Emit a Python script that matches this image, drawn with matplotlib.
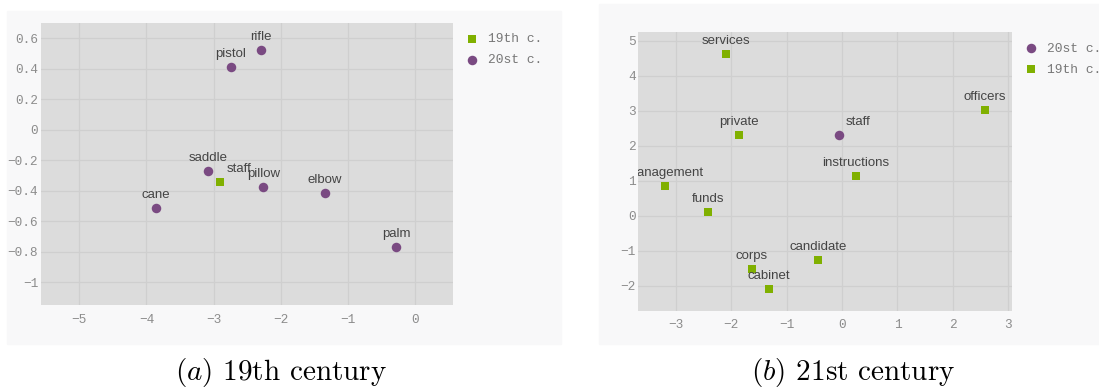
import matplotlib
matplotlib.use("Agg")
import matplotlib.pyplot as plt
from matplotlib.patches import Rectangle
from matplotlib.ticker import FixedLocator, FixedFormatter

# (a) 19th century
a_20st_words = ["rifle", "pistol", "saddle", "pillow", "elbow", "cane", "palm"]
a_20st_x = [-2.29, -2.74, -3.085, -2.26, -1.343, -3.862, -0.283]
a_20st_y = [0.524, 0.414, -0.273, -0.374, -0.418, -0.515, -0.773]
a_19th_words = ["staff"]
a_19th_x = [-2.912]
a_19th_y = [-0.343]
a_xticks = [-5, -4, -3, -2, -1, 0]
a_xlabels = ["\u22125", "\u22124", "\u22123", "\u22122", "\u22121", "0"]
a_yticks = [-1, -0.8, -0.6, -0.4, -0.2, 0, 0.2, 0.4, 0.6]
a_ylabels = ["\u22121", "\u22120.8", "\u22120.6", "\u22120.4", "\u22120.2", "0", "0.2", "0.4", "0.6"]

# (b) 21st century
b_20st_words = ["staff"]
b_20st_x = [-0.059]
b_20st_y = [2.31]
b_19th_words = ["services", "private", "officers", "instructions", "management",
                "funds", "candidate", "corps", "cabinet"]
b_19th_x = [-2.085, -1.864, 2.574, 0.245, -3.195, -2.413, -0.437, -1.623, -1.32]
b_19th_y = [4.62, 2.314, 3.02, 1.143, 0.857, 0.114, -1.257, -1.53, -2.10]
b_xticks = [-3, -2, -1, 0, 1, 2, 3]
b_xlabels = ["\u22123", "\u22122", "\u22121", "0", "1", "2", "3"]
b_yticks = [-2, -1, 0, 1, 2, 3, 4, 5]
b_ylabels = ["\u22122", "\u22121", "0", "1", "2", "3", "4", "5"]

PURPLE = "#7a4a82"
GREEN = "#80b000"
W, H = 1099, 387


def px_rect(x0, y0, x1, y1):
    return [x0 / W, (H - y1) / H, (x1 - x0) / W, (y1 - y0) / H]


def style_axes(ax, xticks, xlabels, yticks, ylabels, xlim, ylim):
    ax.set_facecolor("#dcdcdc")
    for s in ax.spines.values():
        s.set_visible(False)
    ax.set_xlim(*xlim)
    ax.set_ylim(*ylim)
    ax.xaxis.set_major_locator(FixedLocator(xticks))
    ax.xaxis.set_major_formatter(FixedFormatter(xlabels))
    ax.yaxis.set_major_locator(FixedLocator(yticks))
    ax.yaxis.set_major_formatter(FixedFormatter(ylabels))
    ax.tick_params(length=0, labelsize=9.2, labelcolor="#8c8c8c")
    ax.tick_params(axis="x", pad=6)
    ax.tick_params(axis="y", pad=2)
    for lab in ax.get_xticklabels() + ax.get_yticklabels():
        lab.set_fontfamily("Liberation Mono")
    ax.grid(True, color="#cfcfcf", linewidth=0.9)
    ax.set_axisbelow(True)


def label_points(ax, words, xs, ys, right=False):
    for w, x, y in zip(words, xs, ys):
        if right:
            ax.annotate(w, (x, y), xytext=(4.8, 7.2), textcoords="offset points",
                        ha="left", va="baseline", fontsize=9.5, color="#444444",
                        family="Liberation Sans", clip_on=True)
        else:
            ax.annotate(w, (x, y), xytext=(0, 7.2), textcoords="offset points",
                        ha="center", va="baseline", fontsize=9.5, color="#444444",
                        family="Liberation Sans", clip_on=True)


def add_legend(ax, x_px, y_px):
    leg = ax.legend(loc="upper left", bbox_to_anchor=(x_px / W, 1 - y_px / H),
                    bbox_transform=fig.transFigure, frameon=False,
                    prop={"family": "Liberation Mono", "size": 9.4},
                    handlelength=0.8, handletextpad=0.8, labelspacing=0.68,
                    borderpad=0, borderaxespad=0)
    for t in leg.get_texts():
        t.set_color("#777777")


fig = plt.figure(figsize=(W / 100, H / 100), dpi=100)
fig.patch.set_facecolor("white")

# panel backgrounds
fig.add_artist(Rectangle((6.7 / W, (H - 344) / H), 554.3 / W, 333 / H,
                         transform=fig.transFigure, color="#f8f8f9", zorder=0))
fig.add_artist(Rectangle((598.7 / W, (H - 344) / H), 500.3 / W, 340 / H,
                         transform=fig.transFigure, color="#f8f8f9", zorder=0))

# (a)
ax1 = fig.add_axes(px_rect(41, 22.7, 452.7, 305.3))
style_axes(ax1, a_xticks, a_xlabels, a_yticks, a_ylabels, (-5.57, 0.56), (-1.153, 0.703))
ax1.scatter(a_19th_x, a_19th_y, marker="s", s=40, color=GREEN, linewidths=0,
            label="19th c.", zorder=3)
ax1.scatter(a_20st_x, a_20st_y, marker="o", s=47, color=PURPLE, linewidths=0,
            label="20st c.", zorder=3)
label_points(ax1, a_20st_words, a_20st_x, a_20st_y)
label_points(ax1, a_19th_words, a_19th_x, a_19th_y, right=True)
add_legend(ax1, 467, 33)

# (b)
ax2 = fig.add_axes(px_rect(638.3, 32, 1012, 311))
style_axes(ax2, b_xticks, b_xlabels, b_yticks, b_ylabels, (-3.675, 3.067), (-2.72, 5.25))
ax2.scatter(b_20st_x, b_20st_y, marker="o", s=47, color=PURPLE, linewidths=0,
            label="20st c.", zorder=3)
ax2.scatter(b_19th_x, b_19th_y, marker="s", s=40, color=GREEN, linewidths=0,
            label="19th c.", zorder=3)
label_points(ax2, b_19th_words, b_19th_x, b_19th_y)
label_points(ax2, b_20st_words, b_20st_x, b_20st_y, right=True)
add_legend(ax2, 1026, 42.5)

# captions
fig.text(281 / W, 0.018, r"$(a)$ 19th century", ha="center", va="baseline",
         fontsize=21, family="cmr10", math_fontfamily="cm")
fig.text(853 / W, 0.018, r"$(b)$ 21st century", ha="center", va="baseline",
         fontsize=21, family="cmr10", math_fontfamily="cm")

fig.savefig("out.png", dpi=100)
